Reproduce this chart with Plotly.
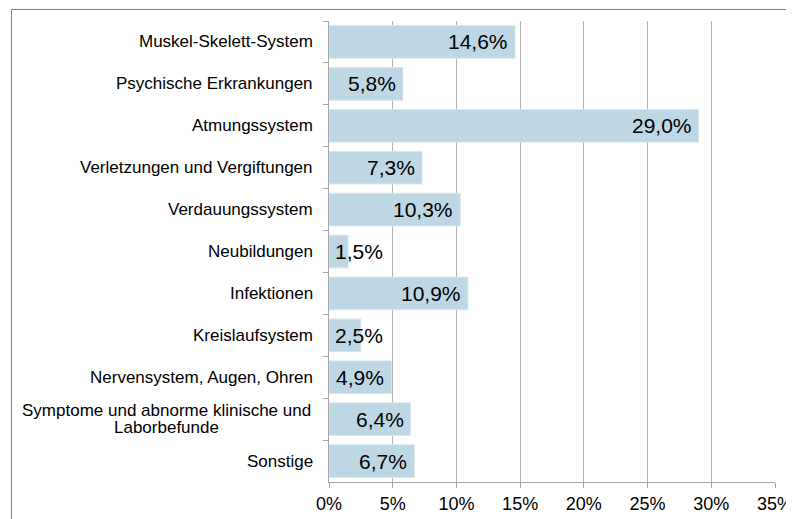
import plotly.graph_objects as go

categories = [
    "Muskel-Skelett-System",
    "Psychische Erkrankungen",
    "Atmungssystem",
    "Verletzungen und Vergiftungen",
    "Verdauungssystem",
    "Neubildungen",
    "Infektionen",
    "Kreislaufsystem",
    "Nervensystem, Augen, Ohren",
    "Symptome und abnorme klinische und<br>Laborbefunde",
    "Sonstige",
]
values = [14.6, 5.8, 29.0, 7.3, 10.3, 1.5, 10.9, 2.5, 4.9, 6.4, 6.7]
value_labels = ["14,6%", "5,8%", "29,0%", "7,3%", "10,3%", "1,5%", "10,9%", "2,5%", "4,9%", "6,4%", "6,7%"]
x_ticks = [0, 5, 10, 15, 20, 25, 30, 35]
x_tick_labels = ["0%", "5%", "10%", "15%", "20%", "25%", "30%", "35%"]

FONT = "Liberation Sans, Arial, sans-serif"
BAR = "#bed7e4"
GRID = "#b3b3b3"
AXIS = "#a6a6a6"

fig = go.Figure()
fig.add_trace(go.Bar(
    y=categories, x=values, orientation="h",
    marker=dict(color=BAR, line=dict(color="#dbe8ef", width=1)),
    hoverinfo="skip", showlegend=False,
))

annotations = []
for c, v, t in zip(categories, values, value_labels):
    if v < 3:
        annotations.append(dict(x=0, y=c, xref="x", yref="y", text=t, showarrow=False,
                                xanchor="left", xshift=4, font=dict(family=FONT, size=21, color="black")))
    else:
        annotations.append(dict(x=v, y=c, xref="x", yref="y", text=t, showarrow=False,
                                xanchor="right", xshift=-5, font=dict(family=FONT, size=21, color="black")))
    lines = c.split("<br>")
    n = len(lines)
    for i, ln in enumerate(lines):
        annotations.append(dict(x=0, y=c, xref="x", yref="y", text=ln, showarrow=False,
                                xanchor="right" if n == 1 else "center",
                                xshift=-14 if n == 1 else -163,
                                yshift=(n - 1) * 8.5 - i * 17,
                                font=dict(family=FONT, size=17, color="black")))

# outer chart frame (extends beyond visible area on right/bottom)
shapes = [
    dict(type="line", xref="paper", yref="paper", x0=-0.712, x1=1.2, y0=1.025, y1=1.025,
         line=dict(color="#7f7f7f", width=1)),
    dict(type="line", xref="paper", yref="paper", x0=-0.712, x1=-0.712, y0=-0.2, y1=1.025,
         line=dict(color="#7f7f7f", width=1)),
]

# page body has an 8px default margin; size the figure so it fits the window
fig.update_layout(
    width=786, height=511,
    margin=dict(l=321, r=19, t=13, b=37, autoexpand=False),
    paper_bgcolor="white", plot_bgcolor="white",
    bargap=0.22,
    font=dict(family=FONT, size=17, color="black"),
    annotations=annotations,
    shapes=shapes,
    xaxis=dict(range=[0, 35], tickvals=x_ticks, ticktext=x_tick_labels,
               showgrid=True, gridcolor=GRID, gridwidth=1,
               showline=True, linecolor=AXIS, linewidth=1,
               ticks="outside", ticklen=5, tickcolor=AXIS,
               tickfont=dict(family=FONT, size=18, color="black"),
               zeroline=False, fixedrange=True, automargin=False),
    yaxis=dict(autorange="reversed", showticklabels=False,
               showline=True, linecolor=AXIS, linewidth=1,
               ticks="outside", tickson="boundaries", ticklen=5, tickcolor=AXIS,
               showgrid=False, zeroline=False, fixedrange=True, automargin=False),
)

fig.write_html("out.html")
